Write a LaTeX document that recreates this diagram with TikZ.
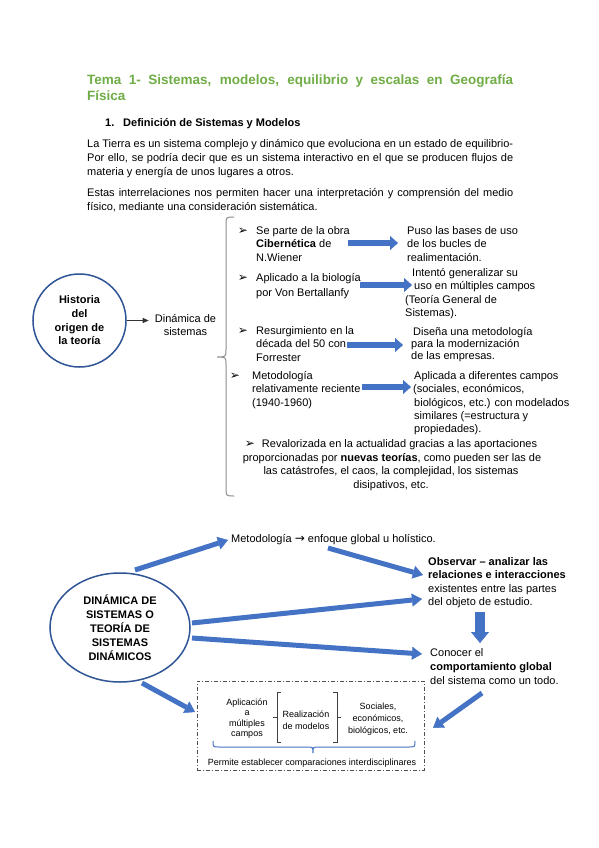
\documentclass[tikz,border=0pt]{standalone}
\usepackage{fontspec}
\setmainfont{Liberation Sans}
\newfontfamily\djv{DejaVu Sans}
\usetikzlibrary{arrows.meta,shapes.geometric}
\definecolor{tgreen}{HTML}{70AD47}
\definecolor{ablue}{HTML}{4472C4}
\definecolor{dblue}{HTML}{2F5597}
\definecolor{bgray}{HTML}{8C8C8C}
\definecolor{boxgray}{HTML}{505050}
\newcommand\fs[2]{\fontsize{#1}{#2}\selectfont}
\newcommand\bul{{\djv\bfseries\fontsize{12}{12}\selectfont ➢}}
\begin{document}
\begin{tikzpicture}[x=1pt,y=-1pt,
  txt/.style={anchor=base west,inner sep=0pt,font=\fs{11}{13}},
  btxt/.style={anchor=base west,inner sep=0pt,font=\bfseries\fs{11}{13}},
  ctxt/.style={anchor=base,inner sep=0pt,font=\fs{11}{13}},
  small/.style={anchor=base,inner sep=0pt,font=\fs{9}{10}},
  bullet/.style={anchor=base,inner sep=0pt},
  itemarrow/.style={line width=6pt,ablue,-{Triangle[length=8pt,width=14pt,line width=0.4pt]}},
  bigarrow/.style={line width=5pt,ablue,-{Triangle[length=10pt,width=13pt,line width=0.4pt]}},
  downarrow/.style={line width=10pt,ablue,-{Triangle[length=11pt,width=18pt,line width=0.4pt]}},
]
\fill[white] (0,0) rectangle (599,848);
\useasboundingbox (0,0) rectangle (599,848);

% title
\node[anchor=base west,inner sep=0pt,font=\bfseries\fs{13.5}{16},text=tgreen] (t1) at (87,85)
  {\makebox[426pt][s]{Tema 1- Sistemas, modelos, equilibrio y escalas en Geografía}};
\node[anchor=base west,inner sep=0pt,font=\bfseries\fs{13.5}{16},text=tgreen] (t2) at (87,101) {Física};

% heading
\node[anchor=base west,inner sep=0pt,font=\bfseries\fs{11}{13}] (h1) at (105,126) {1.};
\node[anchor=base west,inner sep=0pt,font=\bfseries\fs{11}{13}] (h2) at (123,126) {Definición de Sistemas y Modelos};

% paragraphs
\node[txt] (p1) at (87,147) {\makebox[426pt][s]{La Tierra es un sistema complejo y dinámico que evoluciona en un estado de equilibrio-}};
\node[txt] (p2) at (87,161) {\makebox[426pt][s]{Por ello, se podría decir que es un sistema interactivo en el que se producen flujos de}};
\node[txt] (p3) at (87,175) {materia y energía de unos lugares a otros.};
\node[txt] (p4) at (87,196) {\makebox[426pt][s]{Estas interrelaciones nos permiten hacer una interpretación y comprensión del medio}};
\node[txt] (p5) at (87,210) {físico, mediante una consideración sistemática.};

% history circle
\node[circle,draw=dblue,line width=1.5pt,minimum size=93pt,inner sep=0pt,align=center,
  font=\bfseries\fs{11}{13.7}] (hist) at (79.5,320.5) {Historia\\del\\origen de\\la teoría};
\node[align=center,font=\fs{11}{13},inner xsep=6pt,inner ysep=2pt] (din) at (185.5,325.5) {Dinámica de\\sistemas};
\draw[line width=0.8pt,black!80,-{Triangle[length=6pt,width=5pt]}] (hist.east) -- (hist.east -| din.west);

% big gray brace
\draw[bgray,line width=1pt] (234,217) .. controls (226,217) .. (226,225) -- (226,349)
  .. controls (226,357) .. (217,357) .. controls (226,357) .. (226,365) -- (226,488)
  .. controls (226,496) .. (234,496);

% item 1
\node[bullet] (b1) at (243,234) {\bul};
\node[txt] (i1a) at (256,234) {Se parte de la obra};
\node[txt] (i1b) at (256,247.5) {\textbf{Cibernética} de};
\node[txt] (i1c) at (256,261) {N.Wiener};
\node[txt] (r1a) at (407,234) {Puso las bases de uso};
\node[txt] (r1b) at (407,247.5) {de los bucles de};
\node[txt] (r1c) at (407,261) {realimentación.};
\coordinate (a1s) at (348,243);
\coordinate (a1e) at (398,243);
\draw[itemarrow] (a1s) -- (a1e);

% item 2
\node[bullet] (b2) at (243,281) {\bul};
\node[txt] (i2a) at (256,281) {Aplicado a la biología};
\node[txt] (i2b) at (256,296) {por Von Bertallanfy};
\node[txt] (r2a) at (412,276) {Intentó generalizar su};
\node[txt] (r2b) at (414,289.5) {uso en múltiples campos};
\node[txt] (r2c) at (405,303) {(Teoría General de};
\node[txt] (r2d) at (405,316) {Sistemas).};
\coordinate (a2s) at (360,285);
\coordinate (a2e) at (412,285);
\draw[itemarrow] (a2s) -- (a2e);

% item 3
\node[bullet] (b3) at (243,334) {\bul};
\node[txt] (i3a) at (256,334) {Resurgimiento en la};
\node[txt] (i3b) at (256,347.5) {década del 50 con};
\node[txt] (i3c) at (256,361) {Forrester};
\node[txt] (r3a) at (413,335.5) {Diseña una metodología};
\node[txt] (r3b) at (411,347.5) {para la modernización};
\node[txt] (r3c) at (411,359.5) {de las empresas.};
\coordinate (a3s) at (347,345);
\coordinate (a3e) at (403,345);
\draw[itemarrow] (a3s) -- (a3e);

% item 4
\node[bullet] (b4) at (235,379) {\bul};
\node[txt] (i4a) at (252,379) {Metodología};
\node[txt] (i4b) at (252,392.5) {relativamente reciente};
\node[txt] (i4c) at (252,406) {(1940-1960)};
\node[txt] (r4a) at (414,379) {Aplicada a diferentes campos};
\node[txt] (r4b) at (413,392.5) {(sociales, económicos,};
\node[txt] (r4c) at (414,406) {biológicos, etc.) con modelados};
\node[txt] (r4d) at (414,419) {similares (=estructura y};
\node[txt] (r4e) at (414,432.5) {propiedades).};
\coordinate (a4s) at (362,387);
\coordinate (a4e) at (411,387);
\draw[itemarrow] (a4s) -- (a4e);

% item 5
\node[ctxt] (i5a) at (391,447) {\bul\hspace{7pt}Revalorizada en la actualidad gracias a las aportaciones};
\node[ctxt] (i5b) at (392,461) {proporcionadas por \textbf{nuevas teorías}, como pueden ser las de};
\node[ctxt] (i5c) at (391,474.5) {las catástrofes, el caos, la complejidad, los sistemas};
\node[ctxt] (i5d) at (391,488) {disipativos, etc.};

% bottom diagram
\node[txt] (met) at (231,542) {Metodología {\djv\fs{12}{12}→} enfoque global u holístico.};
\node[ellipse,draw=dblue,line width=1.5pt,minimum width=140pt,minimum height=109pt,inner sep=0pt,
  align=center,font=\bfseries\fs{11}{14}] (dyn) at (120,627.5)
  {DINÁMICA DE\\SISTEMAS O\\TEORÍA DE\\SISTEMAS\\DINÁMICOS};

\node[btxt] (ob1) at (428,565) {Observar – analizar las};
\node[btxt] (ob2) at (428,578.5) {relaciones e interacciones};
\node[txt] (ob3) at (428,592) {existentes entre las partes};
\node[txt] (ob4) at (428,605.5) {del objeto de estudio.};

\node[txt] (co1) at (430,656) {Conocer el};
\node[btxt] (co2) at (430,670) {comportamiento global};
\node[txt] (co3) at (430,684) {del sistema como un todo.};

\coordinate (A1s) at (135,570);  \coordinate (A1e) at (228,540);
\coordinate (A2s) at (328,548);  \coordinate (A2e) at (423,575);
\coordinate (A3s) at (192,623);  \coordinate (A3e) at (422,599);
\coordinate (A4s) at (192,638);  \coordinate (A4e) at (422,654);
\coordinate (A5s) at (480,612);  \coordinate (A5e) at (480,643);
\coordinate (A6s) at (142,683);  \coordinate (A6e) at (195,712);
\coordinate (A7s) at (482,693);  \coordinate (A7e) at (433,728);
\draw[bigarrow] (A1s) -- (A1e);
\draw[bigarrow] (A2s) -- (A2e);
\draw[bigarrow] (A3s) -- (A3e);
\draw[bigarrow] (A4s) -- (A4e);
\draw[downarrow] (A5s) -- (A5e);
\draw[bigarrow] (A6s) -- (A6e);
\draw[bigarrow] (A7s) -- (A7e);

% dashed box
\node[draw=boxgray,line width=0.9pt,dash pattern=on 4pt off 2pt on 1pt off 2pt,
  minimum width=227pt,minimum height=89pt,inner sep=0pt] (box) at (310.5,725.5) {};
\node[small] (ap1) at (247,705) {Aplicación};
\node[small] (ap2) at (247,715.5) {a};
\node[small] (ap3) at (247,726) {múltiples};
\node[small] (ap4) at (247,736.5) {campos};
\node[small] (re1) at (306,717) {Realización};
\node[small] (re2) at (306,729.5) {de modelos};
\node[small] (so1) at (378,709) {Sociales,};
\node[small] (so2) at (378,721.5) {económicos,};
\node[small] (so3) at (378,733.5) {biológicos, etc.};
\node[small] (pe) at (312,765) {Permite establecer comparaciones interdisciplinares};
\draw[black!75,line width=0.7pt] (281,692) -- (277,692) -- (277,742) -- (281,742);
\draw[black!75,line width=0.7pt] (277,717) -- (273,717);
\draw[black!75,line width=0.7pt] (333,692) -- (337,692) -- (337,742) -- (333,742);
\draw[black!75,line width=0.7pt] (337,717) -- (341,717);
\draw[ablue,line width=1pt] (213,741) .. controls (213,747) .. (219,747) -- (307,747)
  .. controls (313,747) .. (313,753) .. controls (313,747) .. (319,747) -- (409,747)
  .. controls (415,747) .. (415,741);
\end{tikzpicture}
\end{document}
